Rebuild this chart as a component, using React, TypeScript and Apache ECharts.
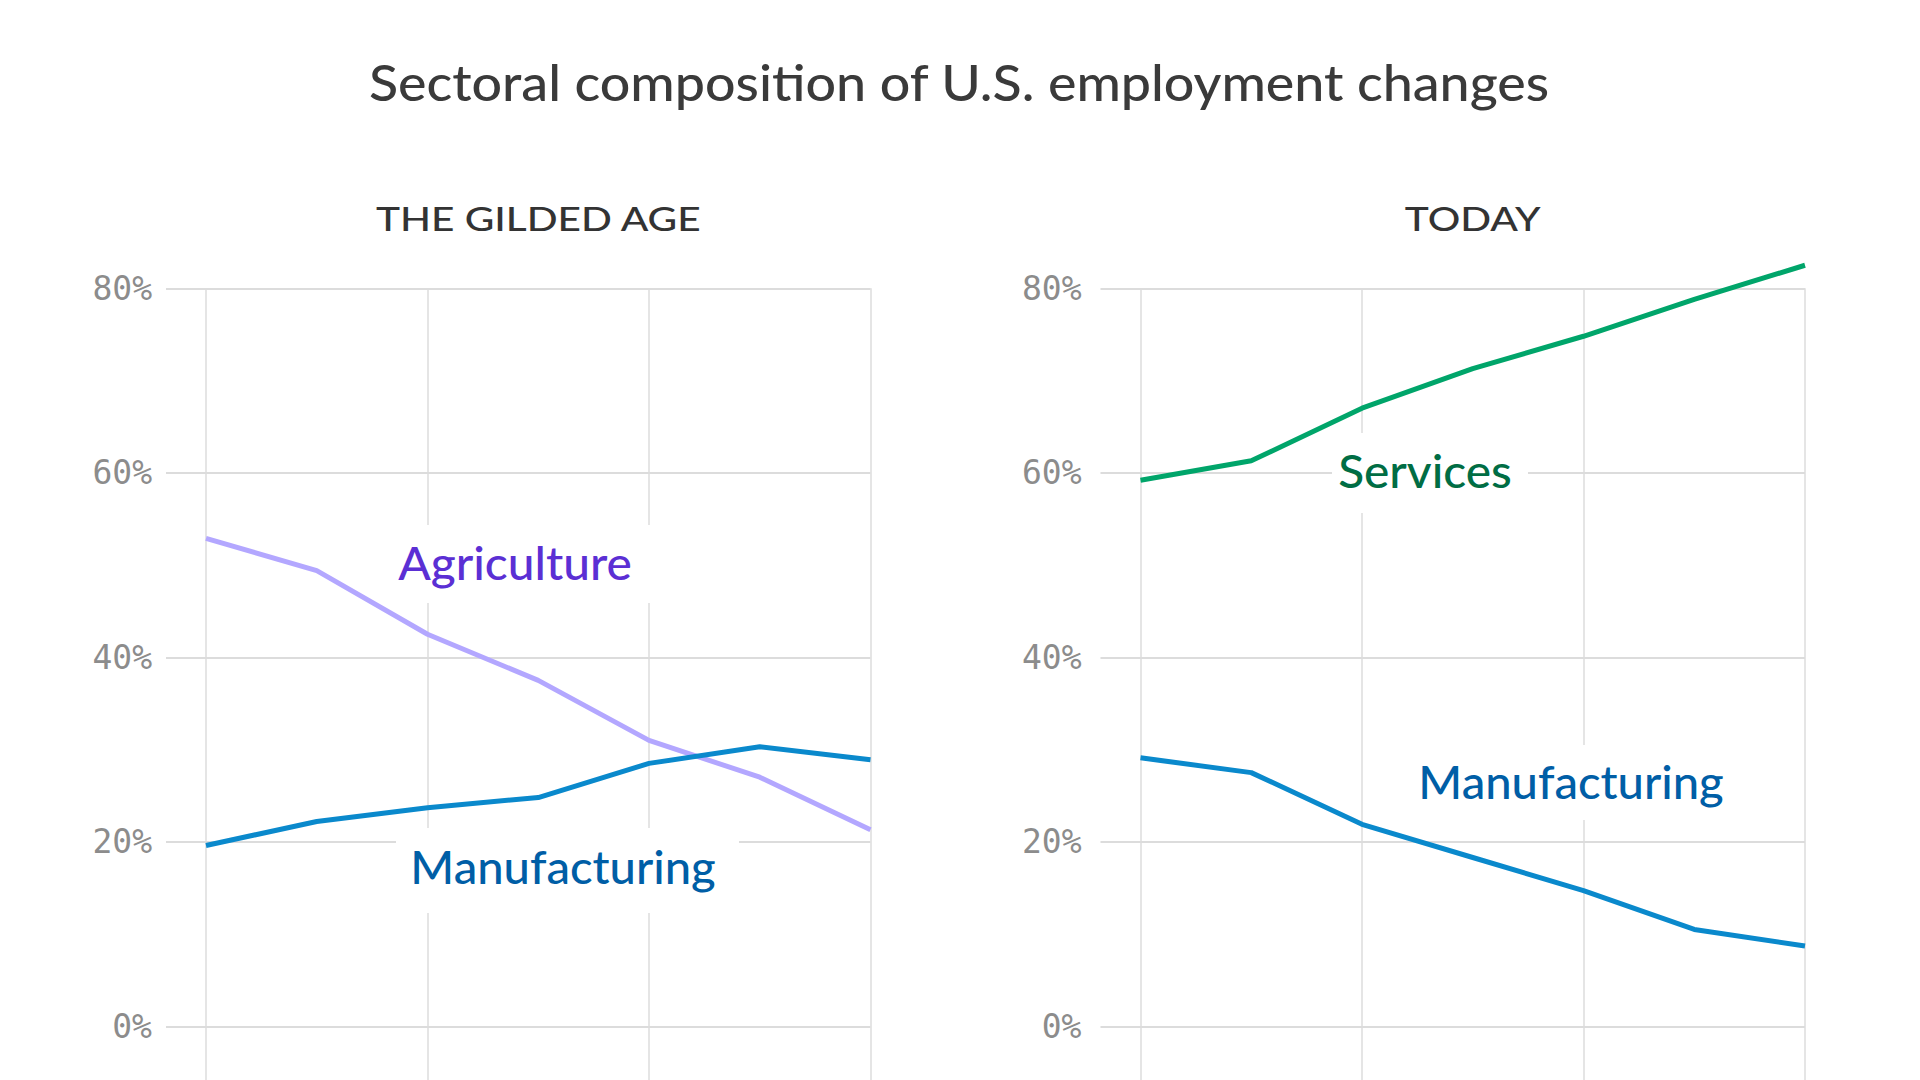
import React, { useEffect, useRef } from "react";
import * as echarts from "echarts";

// ---- data ----
const gildedCategories = ["1870", "1880", "1890", "1900", "1910", "1920", "1930"];
const todayCategories = ["1960", "1970", "1980", "1990", "2000", "2010", "2020"];
const gildedAgriculture = [52.9, 49.4, 42.5, 37.5, 31.0, 27.0, 21.3];
const gildedManufacturing = [19.6, 22.2, 23.7, 24.8, 28.5, 30.3, 28.9];
const todayServices = [59.2, 61.3, 67.0, 71.3, 74.8, 78.8, 82.5];
const todayManufacturing = [29.1, 27.5, 21.9, 18.3, 14.7, 10.5, 8.7];
const yMin = 0;
const yMax = 80;
const yStep = 20;

const TITLE = "Sectoral composition of U.S. employment changes";
const PANEL_TITLES = ["THE GILDED AGE", "TODAY"];

// ---- layout ----
const W = 1920;
const H = 1080;
const TOP = 288.3;
const ZERO_Y = 1026.3;
const PLOT_H = ZERO_Y - TOP;
const DATA_H = H - TOP;
const extMin = -((H - ZERO_Y) / PLOT_H) * (yMax - yMin);
const PANEL_W = 664.5;
const LEFT_X = 206;
const RIGHT_X = 1140.5;
const EXT = 40;

const SANS = "Lato, 'Open Sans', sans-serif";
const GRID_COLOR = "#dcdcdc";

function App() {
  const ref = useRef<HTMLDivElement>(null);
  useEffect(() => {
    if (!ref.current) return;
    const chart = echarts.init(ref.current, null, { renderer: "svg", width: W, height: H });

    const hGrid = (left: number) => ({ left: left - EXT, top: TOP, width: PANEL_W + EXT, height: PLOT_H, outerBoundsMode: "none" });
    const dGrid = (left: number) => ({ left, top: TOP, width: PANEL_W, height: DATA_H, outerBoundsMode: "none" });

    const hX = (cats: string[], gi: number) => ({ type: "category", data: cats, gridIndex: gi, show: false });
    const dX = (cats: string[], gi: number) => ({
      type: "category",
      data: cats,
      gridIndex: gi,
      boundaryGap: false,
      axisLine: { show: false },
      axisTick: { show: false },
      axisLabel: { show: false },
      splitLine: { show: true, interval: 1, lineStyle: { color: GRID_COLOR, width: 1.5 } },
    });
    const hY = (gi: number, margin: number) => ({
      type: "value",
      gridIndex: gi,
      min: yMin,
      max: yMax,
      interval: yStep,
      axisLine: { show: false },
      axisTick: { show: false },
      axisLabel: {
        formatter: "{value}%",
        margin,
        color: "#8c8c8c",
        fontFamily: "'DejaVu Sans Mono', monospace",
        fontSize: 33,
      },
      splitLine: { show: true, lineStyle: { color: GRID_COLOR, width: 2 } },
    });
    const dY = (gi: number) => ({ type: "value", gridIndex: gi, min: extMin, max: yMax, show: false });

    const line = (data: number[], axis: number, color: string) => ({
      type: "line",
      xAxisIndex: axis,
      yAxisIndex: axis,
      data,
      showSymbol: false,
      symbol: "none",
      clip: false,
      z: 5,
      lineStyle: { color, width: 5 },
    });

    const label = (
      text: string,
      cx: number,
      cy: number,
      color: string,
      sx: number,
      box: [number, number, number, number]
    ) => [
      {
        type: "rect",
        z: 1,
        shape: { x: box[0], y: box[1], width: box[2] - box[0], height: box[3] - box[1] },
        style: { fill: "#ffffff" },
      },
      {
        type: "text",
        z: 2,
        x: cx,
        y: cy,
        scaleX: sx,
        style: {
          text,
          fill: color,
          font: `500 46px ${SANS}`,
          textAlign: "center",
          textVerticalAlign: "middle",
        },
      },
    ];

    const heading = (text: string, cx: number, cy: number, size: number, sx: number, color: string) => ({
      type: "text",
      z: 2,
      x: cx,
      y: cy,
      scaleX: sx,
      style: {
        text,
        fill: color,
        font: `500 ${size}px ${SANS}`,
        textAlign: "center",
        textVerticalAlign: "middle",
      },
    });

    chart.setOption({
      animation: false,
      backgroundColor: "#ffffff",
      grid: [hGrid(LEFT_X), dGrid(LEFT_X), hGrid(RIGHT_X), dGrid(RIGHT_X)],
      xAxis: [hX(gildedCategories, 0), dX(gildedCategories, 1), hX(todayCategories, 2), dX(todayCategories, 3)],
      yAxis: [hY(0, 14), dY(1), hY(2, 19), dY(3)],
      series: [
        line(gildedAgriculture, 1, "#b3a7ff"),
        line(gildedManufacturing, 1, "#0a89cc"),
        line(todayServices, 3, "#00a56a"),
        line(todayManufacturing, 3, "#0a89cc"),
      ],
      graphic: {
        elements: [
          heading(TITLE, 959, 81, 51, 1.054, "#3a3a3a"),
          heading(PANEL_TITLES[0], LEFT_X + PANEL_W / 2, 218, 33, 1.23, "#333333"),
          heading(PANEL_TITLES[1], RIGHT_X + PANEL_W / 2, 218, 33, 1.23, "#333333"),
          ...label("Agriculture", 515, 562, "#5b2fd4", 1.04, [384, 525, 657, 603]),
          ...label("Manufacturing", 563, 866, "#005ea6", 1.025, [396, 828, 739, 913]),
          ...label("Services", 1425, 470, "#006d44", 1.04, [1332, 433, 1528, 513]),
          ...label("Manufacturing", 1571, 781, "#005ea6", 1.025, [1405, 745, 1737, 820]),
        ],
      },
    });
    return () => chart.dispose();
  }, []);
  return (
    <div
      ref={ref}
      style={{ position: "absolute", left: 0, top: 0, width: W, height: H, background: "#fff" }}
    />
  );
}

export default App;
